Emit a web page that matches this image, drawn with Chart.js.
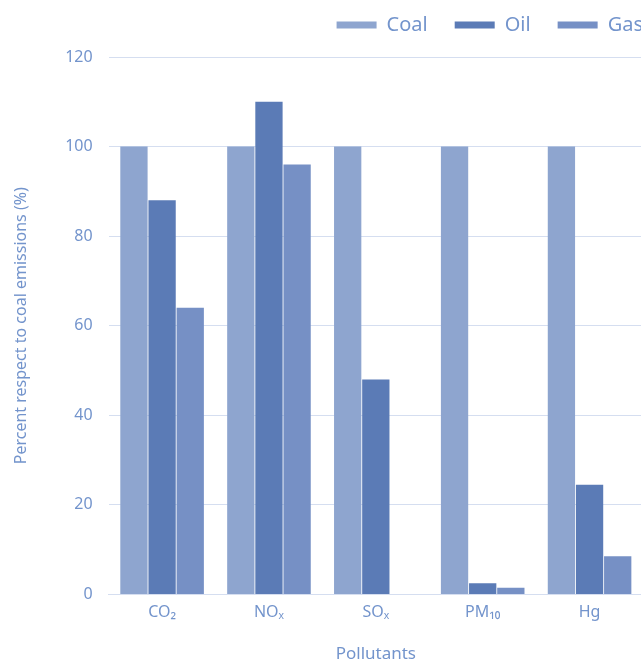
<!DOCTYPE html>
<html>
<head>
<meta charset="utf-8">
<title>Emissions by fuel</title>
<script src="https://cdn.jsdelivr.net/npm/chart.js@4.4.0/dist/chart.umd.min.js"></script>
<style>
  html, body { margin: 0; padding: 0; background: #ffffff; overflow: hidden; }
  #wrap { width: 656px; height: 664px; }
</style>
</head>
<body>
<div id="wrap"><canvas id="chart" width="656" height="664"></canvas></div>
<script>
// pollutants on the x axis
var pollutants = ['CO\u2082', 'NO\u2093', 'SO\u2093', 'PM\u2081\u2080', 'Hg'];
// percent with respect to coal emissions
var coal = [100, 100, 100, 100, 100];
var oil  = [88, 110, 48, 2.5, 24.5];
var gas  = [64, 96, 0, 1.5, 8.5];
var yTicks = [0, 20, 40, 60, 80, 100, 120];

var textColor = '#7394cc';
var gridColor = '#d5def0';
var fontName = "'Noto Sans', 'Open Sans', sans-serif";

// the legend in the original runs past the right edge, nudge it over
var legendShift = {
  id: 'legendShift',
  afterLayout: function (chart) {
    var lg = chart.legend;
    lg.left += 27; lg.right += 27;
    lg.top -= 12; lg.bottom -= 12;
  }
};

var ctx = document.getElementById('chart').getContext('2d');
var chart = new Chart(ctx, {
  type: 'bar',
  data: {
    labels: pollutants,
    datasets: [
      { label: 'Coal', data: coal, backgroundColor: '#8ea5cf' },
      { label: 'Oil',  data: oil,  backgroundColor: '#5b7bb6' },
      { label: 'Gas',  data: gas,  backgroundColor: '#7690c5' }
    ]
  },
  options: {
    responsive: false,
    animation: false,
    layout: { padding: { left: 12, right: 13, top: 0, bottom: 0 } },
    datasets: {
      bar: { categoryPercentage: 0.79, barPercentage: 0.97 }
    },
    plugins: {
      tooltip: { enabled: false },
      legend: {
        position: 'top',
        align: 'end',
        labels: {
          color: textColor,
          font: { family: fontName, size: 20 },
          boxWidth: 40,
          boxHeight: 7,
          padding: 27
        }
      }
    },
    scales: {
      x: {
        grid: { display: false, drawTicks: false },
        border: { color: gridColor, width: 1 },
        ticks: { color: textColor, font: { family: fontName, size: 16 }, padding: 8 },
        title: { display: true, text: 'Pollutants', color: textColor, font: { family: fontName, size: 17 }, padding: { top: 14, bottom: 0 } }
      },
      y: {
        min: 0,
        max: 120,
        afterBuildTicks: function (axis) {
          axis.ticks = yTicks.map(function (v) { return { value: v }; });
        },
        grid: { color: gridColor, drawTicks: false },
        border: { display: false },
        ticks: { color: textColor, font: { family: fontName, size: 16 }, padding: 16 },
        title: { display: true, text: 'Percent respect to coal emissions (%)', color: textColor, font: { family: fontName, size: 16 }, padding: { top: 0, bottom: 18 } }
      }
    }
  },
  plugins: [legendShift]
});
</script>
</body>
</html>
